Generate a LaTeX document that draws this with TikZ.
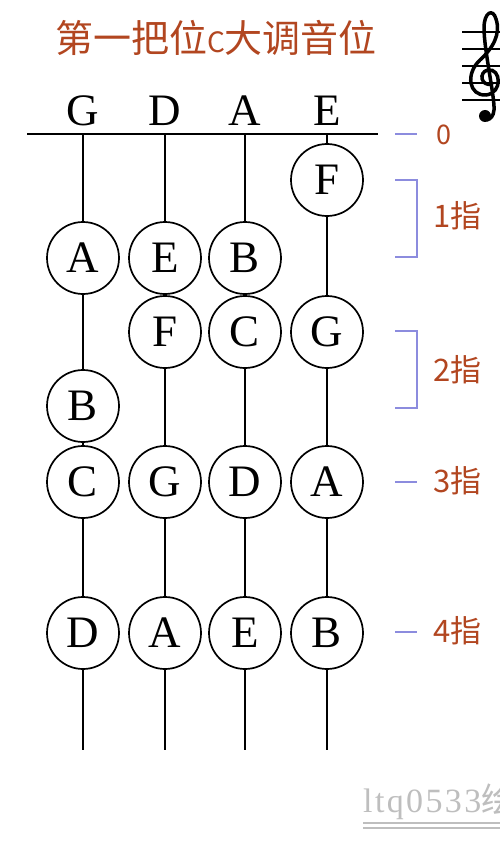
\documentclass[tikz,border=0pt]{standalone}
\usepackage{fontspec}
\setmainfont{Liberation Serif}
\newfontfamily\cjk{Noto Sans CJK SC}
\newfontfamily\wmfont{Liberation Serif}[LetterSpace=7]
\usetikzlibrary{positioning}
\definecolor{titlered}{RGB}{178,70,32}
\definecolor{markblue}{RGB}{140,140,222}
\definecolor{markgrey}{RGB}{190,190,190}

\begin{document}
\begin{tikzpicture}[x=1pt, y=-1pt,
        note/.style = {draw, circle, fill=white, line width=1.7pt, minimum size=72pt, inner sep=0pt, font=\fontsize{45}{45}\selectfont},
        strname/.style = {inner sep=0pt, font=\fontsize{45}{45}\selectfont},
        finger/.style = {anchor=west, inner sep=0pt, text=titlered, font=\cjk\fontsize{31}{31}\selectfont},
        guide/.style = {draw=markblue, line width=1.4pt},
      ]
      \useasboundingbox[fill=white] (0,0) rectangle (500,861);
      \clip (0,0) rectangle (500,861);
      \node[text=titlered, font=\cjk\fontsize{38}{38}\selectfont] (title) at (216,38) {第一把位{\fontsize{28}{28}\selectfont C}大调音位};

      \coordinate (nutl) at (27,134);
      \coordinate (nutr) at (378,134);
      \draw[line width=1.8pt] (nutl) -- (nutr);
      \foreach \s/\x/\n in {g/83/G, d/165/D, a/245/A, e/327/E} {
        \node[strname] (\s) at (\x,111) {\n};
        \coordinate (\s top) at (\x,134);
        \coordinate (\s end) at (\x,750);
        \draw[line width=1.8pt] (\s top) -- (\s end);
      }

      \node[note] (e1) at (327,180) {F};
      \node[note] (g1) at (83,258) {A};
      \node[note] (d1) at (165,258) {E};
      \node[note] (a1) at (245,258) {B};
      \node[note] (d2) at (165,332) {F};
      \node[note] (a2) at (245,332) {C};
      \node[note] (e2) at (327,332) {G};
      \node[note] (g2) at (83,406) {B};
      \node[note] (g3) at (83,482) {C};
      \node[note] (d3) at (165,482) {G};
      \node[note] (a3) at (245,482) {D};
      \node[note] (e3) at (327,482) {A};
      \node[note] (g4) at (83,633) {D};
      \node[note] (d4) at (165,633) {A};
      \node[note] (a4) at (245,633) {E};
      \node[note] (e4) at (327,633) {B};

      \draw[guide] (395,134) -- (417,134);
      \node[finger, font=\cjk\fontsize{27}{27}\selectfont] (f0) at (436,135) {0};
      \draw[guide] (395,180) -- (417,180) -- (417,257) -- (395,257);
      \node[finger] (f1) at (433,216) {1指};
      \draw[guide] (395,331) -- (417,331) -- (417,408) -- (395,408);
      \node[finger] (f2) at (433,370) {2指};
      \draw[guide] (395,482) -- (417,482);
      \node[finger] (f3) at (433,481) {3指};
      \draw[guide] (395,632) -- (417,632);
      \node[finger] (f4) at (433,631) {4指};

      \foreach \y in {32,49,66,83,100}
        \draw[line width=1.2pt] (462,\y) -- (500,\y);
      \draw[line width=3.5pt, line cap=round]
        (492,84) .. controls (481,87) and (478,72) .. (488,70)
        .. controls (501,68) and (503,93) .. (486,95)
        .. controls (469,96) and (465,74) .. (480,60)
        .. controls (493,48) and (501,34) .. (496,19)
        .. controls (493,8) and (484,12) .. (484,28)
        .. controls (484,50) and (495,98) .. (494,110)
        .. controls (493,122) and (482,122) .. (482,115);
      \fill (485,116) circle (6);

      \node[anchor=base west, inner sep=0pt, text=markgrey, font=\wmfont\fontsize{34}{34}\selectfont] (wm) at (363,812) {ltq0533\cjk 绘};
      \draw[markgrey, line width=1.2pt] (363,823) -- (500,823);
      \draw[markgrey, line width=1.2pt] (363,828) -- (500,828);
    \end{tikzpicture}
\end{document}
